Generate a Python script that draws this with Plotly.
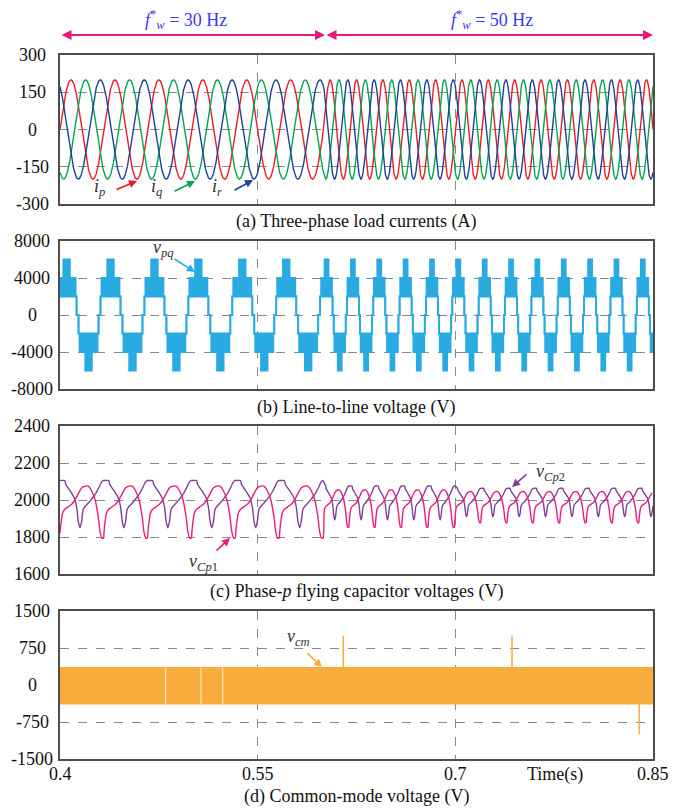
import numpy as np
import plotly.graph_objects as go

# ---------------- data ----------------
t_range = [0.4, 0.85]
seg_t = [0.4, 0.6, 0.85]          # frequency change instant
seg_freq = [30, 50]               # Hz
i_amp = 200                        # A, load current amplitude
i_names = ["i_p", "i_q", "i_r"]
i_shift_deg = [0, -120, 120]
i_colors = ["#ED1C24", "#00A651", "#21409A"]

# line-to-line voltage: levels per half cycle (angle breakpoints, deg)
vpq_phase_deg = [36, 49]
vpq_alpha = [0, 8, 16, 63, 117, 164, 172, 180]
vpq_lo = [0, 2000, 2000, 2000, 2000, 2000, 0]
vpq_hi = [0, 2000, 4000, 6000, 4000, 2000, 0]

# flying capacitor voltages: one-cycle shapes (phase fraction, V)
cp1_phase = [0.0, 0.02, 0.06, 0.11, 0.19, 0.27, 0.34, 0.42, 0.49, 0.57, 0.64, 0.72, 0.80, 0.87, 0.91, 0.95, 0.99]
cp1_val = [1820, 1870, 1930, 1950, 1964, 1978, 2000, 2036, 2065, 2075, 2075, 2050, 2000, 1910, 1830, 1795, 1795]
cp2_phase = [0.0, 0.11, 0.13, 0.20, 0.27, 0.33, 0.38, 0.42, 0.455, 0.49, 0.53, 0.57, 0.65, 0.72, 0.80, 0.88, 0.94, 0.98]
cp2_val = [2105, 2105, 2085, 2060, 2035, 2010, 1960, 1880, 1850, 1880, 1950, 1965, 1985, 2005, 2030, 2065, 2095, 2105]
cap_phase_off = [0.0, -0.03]
cap_scale_t = [0.4, 0.6, 0.7, 0.85]
cap_scale = [1.0, 0.72, 0.6]
cap_nominal = 2000

# common-mode voltage: band envelope and isolated spikes
cm_band = [-385, 355]
cm_spike_t = [0.615, 0.743, 0.8396]
cm_spike_v = [1000, 1000, -1000]
cm_gap_t = [0.4802, 0.5070, 0.5235]

# axes
x_ticks = [0.4, 0.55, 0.7, 0.85]
x_ticklabels = ["0.4", "0.55", "0.7", "0.85"]
y_ticks = [[-300, -150, 0, 150, 300], [-8000, -4000, 0, 4000, 8000],
           [1600, 1800, 2000, 2200, 2400], [-1500, -750, 0, 750, 1500]]
captions = ["(a) Three-phase load currents (A)", "(b) Line-to-line voltage (V)",
            "(c) Phase-<i>p</i> flying capacitor voltages (V)", "(d) Common-mode voltage (V)"]

# ---------------- helpers ----------------
FONT = "Liberation Serif"
OFF = 8                      # page body margin of the browser
W, H = 687 - OFF, 810 - OFF
L, R, T, B = 60, 653, 55, 759   # plot area in screen pixels
panel_px = [(55, 204), (241, 389), (426, 574), (611, 759)]


def paper(px, py):
    return (px - L) / (R - L), (B - py) / (B - T)


def theta_cycles(t):
    t = np.asarray(t, dtype=float)
    c0 = seg_freq[0] * (seg_t[1] - seg_t[0])
    return np.where(t < seg_t[1], seg_freq[0] * (t - seg_t[0]),
                    c0 + seg_freq[1] * (t - seg_t[1]))


fig = go.Figure()

# ---- (a) currents
t = np.linspace(t_range[0], t_range[1], 6001)
th = 2 * np.pi * theta_cycles(t)
for name, sh, col in zip(i_names, i_shift_deg, i_colors):
    fig.add_trace(go.Scatter(x=t, y=i_amp * np.sin(th + np.deg2rad(sh)), mode="lines",
                             line=dict(color=col, width=1.4), name=name,
                             xaxis="x", yaxis="y", showlegend=False))

# ---- (b) line-to-line voltage (PWM bands)
lo_x, lo_y, hi_y = [], [], []
for s in range(2):
    t0, t1, f = seg_t[s], seg_t[s + 1], seg_freq[s]
    psi0 = float(theta_cycles(t0)) * 360 + vpq_phase_deg[s]
    psi1 = psi0 + 360 * f * (t1 - t0)
    for k in range(int(np.floor(psi0 / 180)), int(np.floor(psi1 / 180)) + 1):
        sign = 1 if k % 2 == 0 else -1
        for i in range(len(vpq_lo)):
            a0 = 180 * k + vpq_alpha[i]
            a1 = 180 * k + vpq_alpha[i + 1]
            ts = max(t0, t0 + (a0 - psi0) / (360 * f))
            te = min(t1, t0 + (a1 - psi0) / (360 * f))
            if te <= ts:
                continue
            if sign > 0:
                lo, hi = vpq_lo[i], vpq_hi[i]
            else:
                lo, hi = -vpq_hi[i], -vpq_lo[i]
            lo_x += [ts, te]
            lo_y += [lo, lo]
            hi_y += [hi, hi]
vcol = "#29ABE2"
fig.add_trace(go.Scatter(x=lo_x, y=lo_y, mode="lines", line=dict(color=vcol, width=1.8),
                         xaxis="x2", yaxis="y2", showlegend=False))
fig.add_trace(go.Scatter(x=lo_x, y=hi_y, mode="lines", line=dict(color=vcol, width=1.8),
                         fill="tonexty", fillcolor=vcol, xaxis="x2", yaxis="y2", showlegend=False))


# ---- (c) capacitor voltages
def cap_scale_at(tt):
    for j in range(len(cap_scale)):
        if tt < cap_scale_t[j + 1]:
            return cap_scale[j]
    return cap_scale[-1]


def cap_series(ph, val):
    xs, ys = [], []
    for s in range(2):
        t0, t1, f = seg_t[s], seg_t[s + 1], seg_freq[s]
        ncyc = int(np.ceil((t1 - t0) * f)) + 1
        for n in range(-1, ncyc + 1):
            for p, v in zip(ph, val):
                tt = t0 + (n + p + cap_phase_off[s]) / f
                if t0 <= tt < t1 or (s == 1 and abs(tt - t1) < 1e-9):
                    xs.append(tt)
                    ys.append(cap_nominal + cap_scale_at(tt) * (v - cap_nominal))
    order = np.argsort(xs)
    return np.array(xs)[order], np.array(ys)[order]


x1, y1 = cap_series(cp1_phase, cp1_val)
x2, y2 = cap_series(cp2_phase, cp2_val)
fig.add_trace(go.Scatter(x=x2, y=y2, mode="lines", line=dict(color="#7F3F98", width=1.4, shape="spline", smoothing=0.6),
                         xaxis="x3", yaxis="y3", showlegend=False))
fig.add_trace(go.Scatter(x=x1, y=y1, mode="lines", line=dict(color="#EC1C7A", width=1.4, shape="spline", smoothing=0.6),
                         xaxis="x3", yaxis="y3", showlegend=False))

# ---- (d) common-mode voltage
ocol = "#F8AC3C"
fig.add_trace(go.Scatter(x=t_range, y=[cm_band[0]] * 2, mode="lines", line=dict(color=ocol, width=1),
                         xaxis="x4", yaxis="y4", showlegend=False))
fig.add_trace(go.Scatter(x=t_range, y=[cm_band[1]] * 2, mode="lines", line=dict(color=ocol, width=1),
                         fill="tonexty", fillcolor=ocol, xaxis="x4", yaxis="y4", showlegend=False))
for gt in cm_gap_t:
    fig.add_trace(go.Scatter(x=[gt, gt], y=cm_band, mode="lines", line=dict(color="#FFF1DA", width=1),
                             xaxis="x4", yaxis="y4", showlegend=False))
for st, sv in zip(cm_spike_t, cm_spike_v):
    fig.add_trace(go.Scatter(x=[st, st], y=[0, sv], mode="lines", line=dict(color=ocol, width=1.5),
                             xaxis="x4", yaxis="y4", showlegend=False))

# ---------------- axes ----------------
ax_common = dict(showline=True, linecolor="#4d4d4d", linewidth=1.5, mirror=True,
                 showgrid=True, gridcolor="#8a8a8a", griddash="dash", gridwidth=1,
                 zeroline=False, ticks="", showticklabels=False)
layout = {}
for i in range(4):
    top, bot = panel_px[i]
    dom = [(B - bot) / (B - T), (B - top) / (B - T)]
    sx = "" if i == 0 else str(i + 1)
    layout["xaxis" + sx] = dict(ax_common, range=t_range, tickvals=x_ticks, anchor="y" + sx,
                                domain=[0, 1], **({} if i == 0 else {"matches": "x"}))
    layout["yaxis" + sx] = dict(ax_common, range=[y_ticks[i][0], y_ticks[i][-1]],
                                tickvals=y_ticks[i], anchor="x" + sx, domain=dom)

ann = []
tf = dict(family=FONT, size=18, color="#111")
# y tick labels (centered like the reference)
for i in range(4):
    sy = "y" if i == 0 else "y" + str(i + 1)
    for v in y_ticks[i]:
        ann.append(dict(x=paper(32, 0)[0], xref="paper", y=v, yref=sy, text=str(v),
                        showarrow=False, xanchor="center", yanchor="middle", font=tf))
# x tick labels
for v, lab in zip(x_ticks, x_ticklabels):
    ann.append(dict(x=v, xref="x4", y=paper(0, 774)[1], yref="paper", text=lab, showarrow=False,
                    xanchor="center", yanchor="middle", font=tf))
ann.append(dict(x=0.776, xref="x4", y=paper(0, 774)[1], yref="paper", text="Time(s)",
                showarrow=False, xanchor="center", yanchor="middle", font=tf))
# captions
for cap, py in zip(captions, [222, 407, 591, 796]):
    xp, yp = paper(356, py)
    ann.append(dict(x=xp, y=yp, xref="paper", yref="paper", text=cap, showarrow=False,
                    xanchor="center", yanchor="middle", font=tf))

# top frequency arrows and labels
pink = "#E8197D"
for (xa, xb) in [(60, 325), (325, 653)]:
    hx, hy = paper(xb, 35)
    ann.append(dict(x=hx, y=hy, xref="paper", yref="paper", ax=xa - xb, ay=0, text="",
                    showarrow=True, arrowhead=2, arrowside="end+start", arrowsize=1,
                    arrowwidth=2, arrowcolor=pink))
blue_txt = "#3B3BEE"
for txt, px in [("<i>f</i><sup>*</sup><sub><i>w</i></sub> = 30 Hz", 186),
                ("<i>f</i><sup>*</sup><sub><i>w</i></sub> = 50 Hz", 492)]:
    xp, yp = paper(px, 20)
    ann.append(dict(x=xp, y=yp, xref="paper", yref="paper", text=txt, showarrow=False,
                    xanchor="center", yanchor="middle",
                    font=dict(family=FONT, size=18, color=blue_txt)))

# signal labels with arrows
lab_font = dict(family=FONT, size=18, color="#333")
labels = [
    ("<i>i</i><sub><i>p</i></sub>", (99, 187), (115, 190), (137, 181), i_colors[0]),
    ("<i>i</i><sub><i>q</i></sub>", (156, 187), (173, 192), (195, 181), i_colors[1]),
    ("<i>i</i><sub><i>r</i></sub>", (217, 187), (233, 191), (253, 180), i_colors[2]),
    ("<i>v</i><sub><i>pq</i></sub>", (163, 249), (173, 258), (195, 272), vcol),
    ("<i>v</i><sub><i>Cp</i>1</sub>", (203, 562), (215, 552), (230, 538), "#EC1C7A"),
    ("<i>v</i><sub><i>Cp</i>2</sub>", (550, 472), (528, 473), (512, 487), "#7F3F98"),
    ("<i>v</i><sub><i>cm</i></sub>", (298, 637), (306, 652), (322, 667), ocol),
]
for txt, tp, tail, head, col in labels:
    xp, yp = paper(*tp)
    ann.append(dict(x=xp, y=yp, xref="paper", yref="paper", text=txt, showarrow=False,
                    xanchor="center", yanchor="middle", font=lab_font))
    hx, hy = paper(*head)
    ann.append(dict(x=hx, y=hy, xref="paper", yref="paper", ax=tail[0] - head[0],
                    ay=tail[1] - head[1], text="", showarrow=True, arrowhead=2,
                    arrowsize=1, arrowwidth=1.6, arrowcolor=col))

fig.update_layout(width=W, height=H,
                  margin=dict(l=L - OFF, r=687 - R, t=T - OFF, b=810 - B, pad=0),
                  plot_bgcolor="white", paper_bgcolor="white", annotations=ann,
                  font=dict(family=FONT, size=18), **layout)

fig.write_html("out.html")
